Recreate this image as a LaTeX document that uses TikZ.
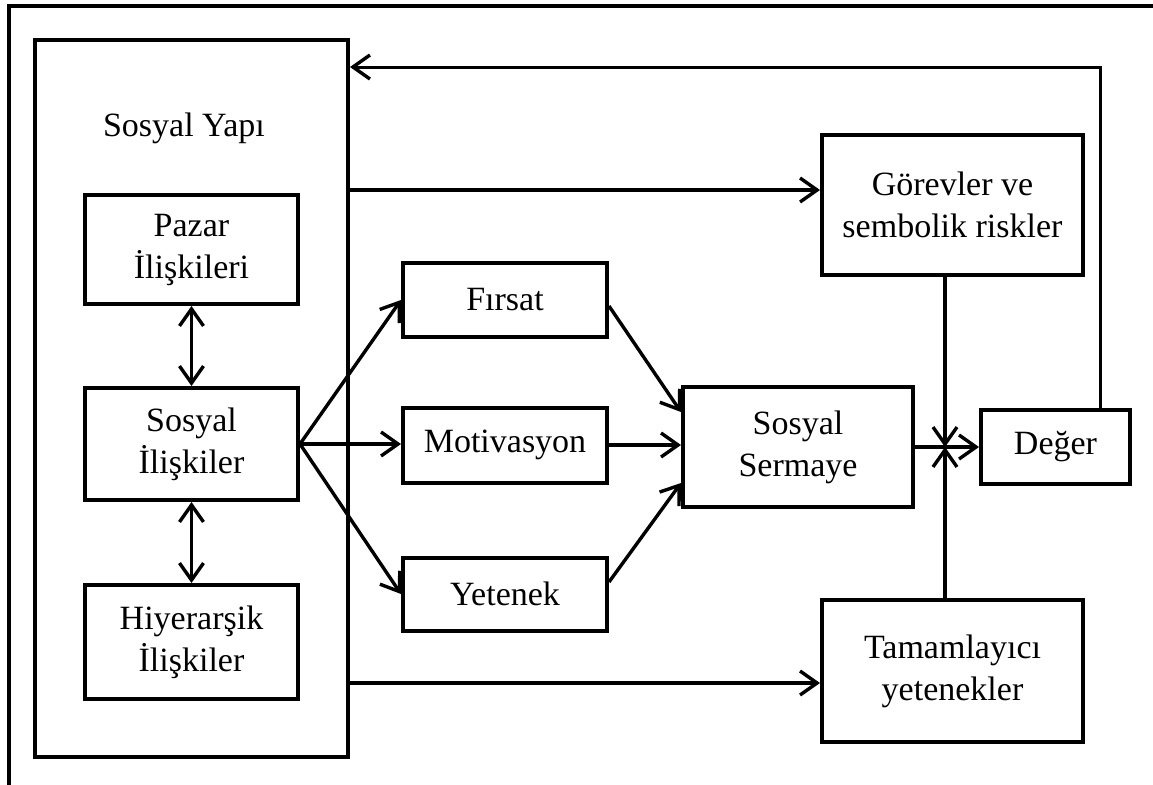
\documentclass[tikz,border=0pt]{standalone}
\usepackage{fontspec}
\setmainfont{Liberation Serif}
\usetikzlibrary{arrows.meta,calc}
\begin{document}
\begin{tikzpicture}[x=0.5pt,y=-0.5pt,
  box/.style={draw,line width=2pt,inner sep=0pt,align=center,font=\fontsize{17}{21}\selectfont},
  arr/.style={line width=1.7pt,-{Straight Barb[length=8.5pt,width=12pt,line width=1.7pt]}},
  darr/.style={line width=1.7pt,{Straight Barb[length=8.5pt,width=12pt,line width=1.7pt]}-{Straight Barb[length=8.5pt,width=12pt,line width=1.7pt]}},
  lbl/.style={font=\fontsize{17}{21}\selectfont}]
\useasboundingbox (0,0) rectangle (1153,784);
% outer frame (cropped)
\coordinate (ftl) at (9,6);
\coordinate (ftr) at (1160,6);
\coordinate (fbl) at (9,790);
\draw[line width=1.8pt] (fbl) -- (ftl) -- (ftr);
% nodes
\node[box,minimum width=313*0.5pt,minimum height=717*0.5pt] (yapi) at (191.5,398.5) {};
\node[lbl] (yapilbl) at (184,128) {Sosyal Yapı};
\node[box,minimum width=213*0.5pt,minimum height=109*0.5pt] (pazar) at (191.5,249.5) {Pazar\\İlişkileri};
\node[box,minimum width=213*0.5pt,minimum height=112*0.5pt] (sosyal) at (191.5,444) {Sosyal\\İlişkiler};
\node[box,minimum width=213*0.5pt,minimum height=114*0.5pt] (hiyer) at (191.5,642) {Hiyerarşik\\İlişkiler};
\node[box,minimum width=204*0.5pt,minimum height=74*0.5pt] (firsat) at (505,300) {Fırsat};
\node[box,minimum width=204*0.5pt,minimum height=75*0.5pt] (motiv) at (505,445) {Motivasyon};
\node[box,minimum width=204*0.5pt,minimum height=73*0.5pt] (yetenek) at (505,594) {Yetenek};
\node[box,minimum width=230*0.5pt,minimum height=120*0.5pt] (sermaye) at (798,447) {Sosyal\\Sermaye};
\node[box,minimum width=261*0.5pt,minimum height=140*0.5pt] (gorev) at (952.5,205) {Görevler ve\\sembolik riskler};
\node[box,minimum width=261*0.5pt,minimum height=142*0.5pt] (tamam) at (952.5,671) {Tamamlayıcı\\yetenekler};
\node[box,minimum width=149*0.5pt,minimum height=74*0.5pt] (deger) at (1055.5,447) {Değer};
\coordinate (jn) at (945,447);
\coordinate (fb) at (1100,67);
% connectors
\draw[darr] (pazar.south) -- (sosyal.north);
\draw[darr] (sosyal.south) -- (hiyer.north);
\draw[arr] (sosyal.east) -- (firsat.west);
\draw[arr] (sosyal.east) -- (motiv.west |- sosyal.east);
\draw[arr] (sosyal.east) -- (yetenek.west);
\draw[arr] ([yshift=-3pt]firsat.east) -- ([yshift=17.5pt]sermaye.west);
\draw[arr] (motiv.east) -- (motiv.east -| sermaye.west);
\draw[arr] ([yshift=6pt]yetenek.east) -- ([yshift=-18pt]sermaye.west);
\draw[arr] (sermaye.east) -- (deger.west);
\draw[arr] (jn |- gorev.south) -- (jn);
\draw[arr] (jn |- tamam.north) -- (jn);
\draw[arr] ([yshift=7.5pt]yapi.east |- gorev.west) -- ([yshift=7.5pt]gorev.west);
\draw[arr] ([yshift=-6pt]yapi.east |- tamam.west) -- ([yshift=-6pt]tamam.west);
\draw[arr,line width=1.5pt] (fb |- deger.north) -- (fb) -- (fb -| yapi.east);
\end{tikzpicture}
\end{document}
